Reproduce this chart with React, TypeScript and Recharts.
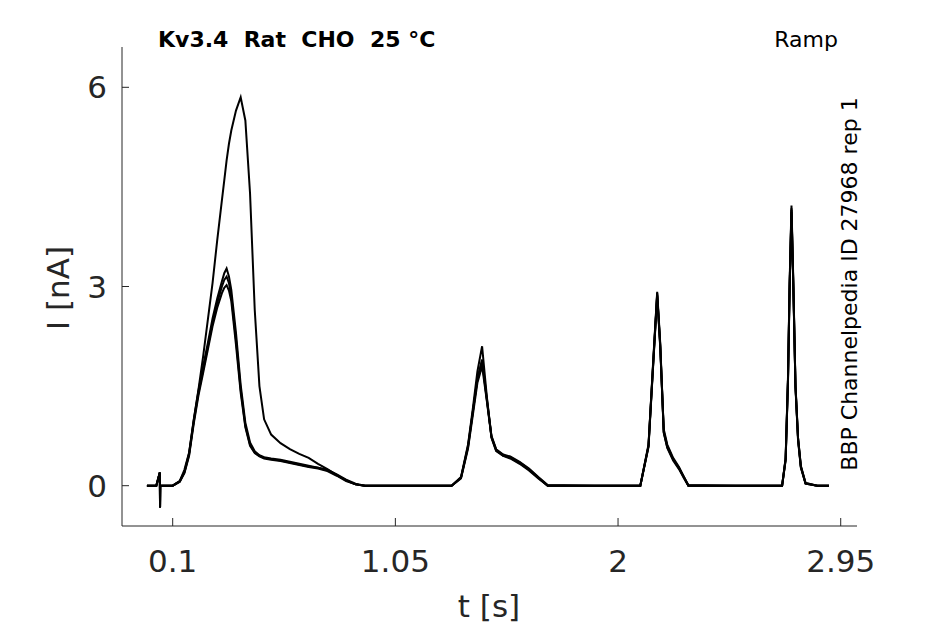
import React from 'react';
import { LineChart, Line, XAxis, YAxis } from 'recharts';

// time grid shared by all sweeps (s)
const tGrid = [
  -0.01, 0.03, 0.045, 0.046, 0.047, 0.07, 0.1, 0.13, 0.15, 0.17,
  0.19, 0.21, 0.23, 0.25, 0.27, 0.29, 0.31, 0.32, 0.33, 0.34,
  0.35, 0.37, 0.39, 0.41, 0.43, 0.45, 0.47, 0.49, 0.52, 0.56,
  0.6, 0.64, 0.68, 0.72, 0.76, 0.8, 0.84, 0.88, 0.92, 1.1,
  1.29, 1.33, 1.36, 1.38, 1.4, 1.42, 1.44, 1.46, 1.48, 1.51,
  1.54, 1.58, 1.62, 1.66, 1.7, 1.9, 2.095, 2.13, 2.15, 2.167,
  2.18, 2.195, 2.21, 2.235, 2.26, 2.28, 2.3, 2.5, 2.7, 2.715,
  2.725, 2.732, 2.74, 2.748, 2.757, 2.768, 2.78, 2.8, 2.85, 2.9,
];

// current per sweep (nA)
const sweep1 = [
  0, 0, 0.2, -0.33, 0, 0, 0, 0.07, 0.24, 0.5,
  1.0, 1.45, 1.95, 2.5, 3.05, 3.7, 4.3, 4.6, 4.9, 5.15,
  5.35, 5.65, 5.85, 5.5, 4.4, 2.65, 1.5, 1.0, 0.77, 0.64,
  0.55, 0.48, 0.42, 0.33, 0.25, 0.16, 0.08, 0.02, 0, 0,
  0, 0.12, 0.58, 1.1, 1.62, 1.88, 1.3, 0.74, 0.54, 0.46,
  0.42, 0.34, 0.24, 0.12, 0, 0, 0, 0.62, 1.85, 2.9,
  2.1, 0.8, 0.58, 0.4, 0.27, 0.13, 0, 0, 0, 0.4,
  1.6, 3.0, 4.18, 3.0, 1.5, 0.7, 0.28, 0.03, 0, 0,
];
const sweep2 = [
  0, 0, 0.2, -0.33, 0, 0, 0, 0.06, 0.2, 0.47,
  0.97, 1.4, 1.75, 2.1, 2.45, 2.75, 3.0, 3.1, 3.15, 3.05,
  2.85, 2.2, 1.45, 0.9, 0.62, 0.5, 0.45, 0.42, 0.4, 0.38,
  0.35, 0.32, 0.29, 0.27, 0.23, 0.16, 0.08, 0.02, 0, 0,
  0, 0.13, 0.62, 1.15, 1.72, 2.1, 1.35, 0.72, 0.52, 0.45,
  0.43, 0.35, 0.25, 0.12, 0, 0, 0, 0.6, 1.88, 2.92,
  2.15, 0.82, 0.6, 0.4, 0.26, 0.14, 0, 0, 0, 0.42,
  1.62, 3.05, 4.22, 3.05, 1.52, 0.72, 0.29, 0.04, 0, 0,
];
const sweep3 = [
  0, 0, 0.2, -0.33, 0, 0, 0, 0.07, 0.21, 0.49,
  0.99, 1.43, 1.8, 2.15, 2.52, 2.82, 3.08, 3.2, 3.27, 3.15,
  2.95, 2.3, 1.52, 0.95, 0.65, 0.52, 0.46, 0.43, 0.41, 0.39,
  0.36, 0.33, 0.3, 0.27, 0.24, 0.17, 0.09, 0.03, 0, 0,
  0, 0.12, 0.6, 1.1, 1.6, 1.9, 1.32, 0.75, 0.55, 0.47,
  0.44, 0.36, 0.26, 0.13, 0.01, 0, 0, 0.58, 1.82, 2.86,
  2.08, 0.85, 0.62, 0.42, 0.28, 0.14, 0.01, 0, 0, 0.38,
  1.55, 2.95, 4.12, 2.95, 1.5, 0.72, 0.3, 0.04, 0, 0,
];
const sweep4 = [
  0, 0, 0.2, -0.33, 0, 0, 0, 0.06, 0.19, 0.45,
  0.94, 1.36, 1.7, 2.05, 2.4, 2.68, 2.9, 2.98, 3.02, 2.94,
  2.78, 2.12, 1.4, 0.88, 0.6, 0.49, 0.44, 0.41, 0.39, 0.37,
  0.34, 0.31, 0.28, 0.26, 0.22, 0.15, 0.07, 0.02, 0, 0,
  0, 0.11, 0.56, 1.05, 1.55, 1.8, 1.28, 0.73, 0.53, 0.45,
  0.41, 0.33, 0.23, 0.11, 0, 0, 0, 0.6, 1.84, 2.88,
  2.12, 0.8, 0.57, 0.38, 0.25, 0.12, 0, 0, 0, 0.4,
  1.58, 3.0, 4.15, 3.0, 1.48, 0.68, 0.27, 0.03, 0, 0,
];

const xTicks = [0.1, 1.05, 2, 2.95];
const yTicks = [0, 3, 6];

const sweeps = [sweep1, sweep2, sweep3, sweep4];
const data = tGrid.map((t, i) => {
  const row: Record<string, number> = { t };
  sweeps.forEach((s, k) => (row['s' + k] = s[i]));
  return row;
});

const font = 'DejaVu Sans, sans-serif';
const ink = '#262626';

export default function App() {
  return (
    <div style={{ position: 'absolute', left: 0, top: 0, width: 945, height: 624, background: '#fff' }}>
      <LineChart width={945} height={624} data={data} margin={{ top: 47, right: 88, left: 0, bottom: 0 }}>
        <XAxis
          dataKey="t"
          type="number"
          domain={[-0.1163, 3.0195]}
          ticks={xTicks}
          allowDataOverflow
          height={98}
          tickSize={-8}
          tickMargin={32}
          stroke={ink}
          tick={{ fill: ink, fontSize: 31, fontFamily: font }}
        />
        <YAxis
          type="number"
          domain={[-0.607, 6.607]}
          ticks={yTicks}
          allowDataOverflow
          width={122}
          tickSize={-7}
          tickMargin={22}
          stroke={ink}
          tick={{ fill: ink, fontSize: 31, fontFamily: font }}
        />
        {sweeps.map((_, k) => (
          <Line
            key={k}
            type="linear"
            dataKey={'s' + k}
            stroke="#000"
            strokeWidth={2}
            dot={false}
            isAnimationActive={false}
          />
        ))}
      </LineChart>
      <svg width={945} height={624} style={{ position: 'absolute', left: 0, top: 0, pointerEvents: 'none' }}>
        <text x={158} y={47} fontFamily={font} fontWeight="bold" fontSize={22} fill="#000" style={{ whiteSpace: 'pre' }}>
          {'Kv3.4  Rat  CHO  25 °C'}
        </text>
        <text x={838} y={47} fontFamily={font} fontSize={22} fill="#000" textAnchor="end">
          Ramp
        </text>
        <text
          x={0}
          y={0}
          transform="translate(857 284) rotate(-90)"
          fontFamily={font}
          fontSize={22}
          fill="#000"
          textAnchor="middle"
        >
          BBP Channelpedia ID 27968 rep 1
        </text>
        <text x={489} y={617} fontFamily={font} fontSize={31} fill={ink} textAnchor="middle">
          t [s]
        </text>
        <text
          x={0}
          y={0}
          transform="translate(69 288) rotate(-90)"
          fontFamily={font}
          fontSize={31}
          fill={ink}
          textAnchor="middle"
        >
          I [nA]
        </text>
      </svg>
    </div>
  );
}
